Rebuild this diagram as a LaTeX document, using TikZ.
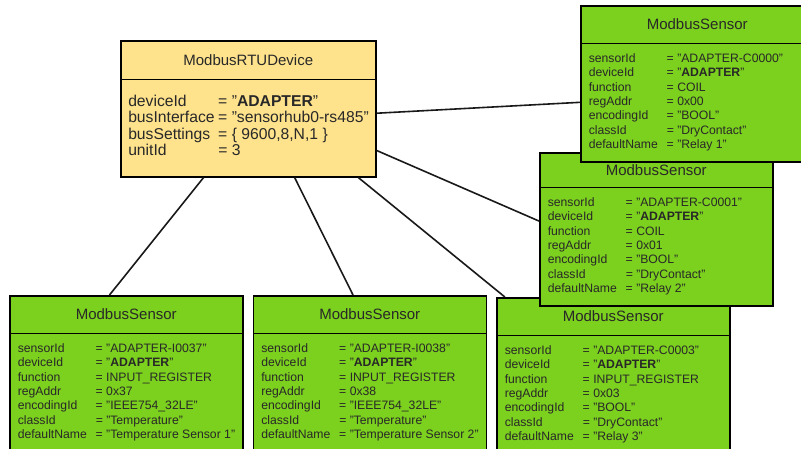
\documentclass[tikz,border=0pt]{standalone}
\usepackage{fontspec}
\setmainfont{Liberation Sans}
\usetikzlibrary{shapes.multipart, positioning}
\definecolor{devyellow}{RGB}{254,226,140}
\definecolor{sensgreen}{RGB}{124,208,30}
\definecolor{ink}{RGB}{40,40,40}

% title part and attribute part of a class box
\newcommand{\boxtitle}[3]{\parbox[c][#2][c]{#1}{\centering\fontsize{15}{18}\selectfont #3}}
\newcommand{\sensorattrs}[1]{\parbox[t][117pt][t]{225pt}{\vspace*{8.5pt}%
  \fontsize{12.2}{14.3}\selectfont
  \begin{tabular}{@{\hspace{4pt}}p{78pt}@{}l@{}}#1\end{tabular}}}
\newcommand{\deviceattrs}[1]{\parbox[t][96pt][t]{247pt}{\vspace*{14.5pt}%
  \fontsize{15.7}{16.5}\selectfont
  \begin{tabular}{@{\hspace{3.5pt}}p{90pt}@{}l@{}}#1\end{tabular}}}

\begin{document}
\begin{tikzpicture}[x=1pt, y=1pt,
  classbox/.style={rectangle split, rectangle split parts=2, draw=black,
    line width=1.5pt, inner xsep=4pt, inner ysep=0pt, text=ink,
    anchor=north west},
  sensor/.style={classbox, fill=sensgreen},
  device/.style={classbox, fill=devyellow},
  link/.style={line width=1.6pt, draw=black!90},
  node distance=9pt
]
\useasboundingbox (0,0) rectangle (801,-448);

\node[device] (dev) at (120,-40)
  {\boxtitle{247pt}{37pt}{ModbusRTUDevice}
   \nodepart{two}\deviceattrs{
   deviceId     & = "\textbf{ADAPTER}"\\
   busInterface & = "sensorhub0-rs485"\\
   busSettings  & = \{ 9600,8,N,1 \}\\
   unitId       & = 3}};

\node[sensor] (s37) at (9,-295)
  {\boxtitle{225pt}{36pt}{ModbusSensor}
   \nodepart{two}\sensorattrs{
   sensorId    & = "ADAPTER-I0037"\\
   deviceId    & = "\textbf{ADAPTER}"\\
   function    & = INPUT\_REGISTER\\
   regAddr     & = 0x37\\
   encodingId  & = "IEEE754\_32LE"\\
   classId     & = "Temperature"\\
   defaultName & = "Temperature Sensor 1"}};

\node[sensor, right=of s37] (s38)
  {\boxtitle{225pt}{36pt}{ModbusSensor}
   \nodepart{two}\sensorattrs{
   sensorId    & = "ADAPTER-I0038"\\
   deviceId    & = "\textbf{ADAPTER}"\\
   function    & = INPUT\_REGISTER\\
   regAddr     & = 0x38\\
   encodingId  & = "IEEE754\_32LE"\\
   classId     & = "Temperature"\\
   defaultName & = "Temperature Sensor 2"}};

\node[sensor, right=of s38, yshift=-2pt] (s03)
  {\boxtitle{225pt}{36pt}{ModbusSensor}
   \nodepart{two}\sensorattrs{
   sensorId    & = "ADAPTER-C0003"\\
   deviceId    & = "\textbf{ADAPTER}"\\
   function    & = INPUT\_REGISTER\\
   regAddr     & = 0x03\\
   encodingId  & = "BOOL"\\
   classId     & = "DryContact"\\
   defaultName & = "Relay 3"}};

\node[sensor] (s01) at (539,-152)
  {\boxtitle{225pt}{33pt}{ModbusSensor}
   \nodepart{two}\sensorattrs{
   sensorId    & = "ADAPTER-C0001"\\
   deviceId    & = "\textbf{ADAPTER}"\\
   function    & = COIL\\
   regAddr     & = 0x01\\
   encodingId  & = "BOOL"\\
   classId     & = "DryContact"\\
   defaultName & = "Relay 2"}};

\node[sensor] (s00) at (580,-5)
  {\boxtitle{225pt}{36pt}{ModbusSensor}
   \nodepart{two}\sensorattrs{
   sensorId    & = "ADAPTER-C0000"\\
   deviceId    & = "\textbf{ADAPTER}"\\
   function    & = COIL\\
   regAddr     & = 0x00\\
   encodingId  & = "BOOL"\\
   classId     & = "DryContact"\\
   defaultName & = "Relay 1"}};

\foreach \a/\t in {-123.4/s37.102.9, -56.6/s38.102.9, -32.6/s03.144,
                   -18.8/s01.176.8, -2.5/s00.-171}
  \draw[link] (dev.\a) -- (\t);
\end{tikzpicture}
\end{document}
